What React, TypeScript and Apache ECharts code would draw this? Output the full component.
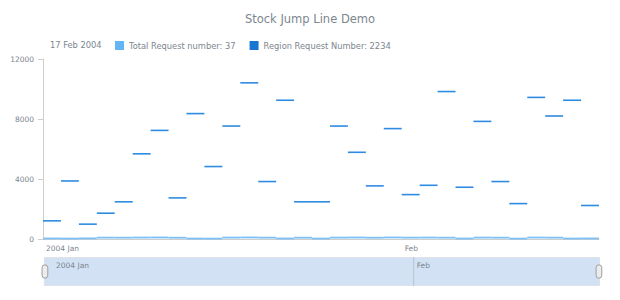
import React, { useEffect, useRef } from 'react';
import * as echarts from 'echarts';

const dates = [
  '2004-01-02', '2004-01-05', '2004-01-06', '2004-01-07', '2004-01-08', '2004-01-09',
  '2004-01-12', '2004-01-13', '2004-01-14', '2004-01-15', '2004-01-16',
  '2004-01-20', '2004-01-21', '2004-01-22', '2004-01-23',
  '2004-01-26', '2004-01-27', '2004-01-28', '2004-01-29', '2004-01-30',
  '2004-02-02', '2004-02-03', '2004-02-04', '2004-02-05', '2004-02-06',
  '2004-02-09', '2004-02-10', '2004-02-11', '2004-02-12', '2004-02-13',
  '2004-02-17',
];

const totalRequests = [
  35, 28, 41, 92, 88, 97, 101, 85, 30, 26,
  95, 104, 90, 33, 87, 29, 93, 99, 86, 102,
  91, 96, 88, 32, 94, 89, 27, 98, 90, 31,
  37,
];

const regionRequests = [
  1210, 3870, 990, 1720, 2480, 5680, 7240, 2740, 8360, 4830,
  7530, 10410, 3830, 9250, 2480, 2480, 7530, 5780, 3540, 7360,
  2960, 3580, 9830, 3450, 7840, 3830, 2360, 9440, 8200, 9250,
  2234,
];

const seriesNames = ['Total Request number', 'Region Request Number'];
const legendColors = ['#64b5f6', '#1976d2'];
const lineColors = ['#7cc0f7', '#2e8be2'];
const yMin = 0;
const yMax = 12000;
const yInterval = 4000;
const MONTHS = ['Jan', 'Feb', 'Mar', 'Apr', 'May', 'Jun', 'Jul', 'Aug', 'Sep', 'Oct', 'Nov', 'Dec'];

const FONT = 'DejaVu Sans';
const TEXT = '#7c868e';

function monthStartLabels(): Record<number, string> {
  const out: Record<number, string> = {};
  dates.forEach((d, i) => {
    const [y, m] = d.split('-');
    const prev = i > 0 ? dates[i - 1].split('-')[1] : null;
    if (prev !== m) out[i] = i === 0 ? `${y} ${MONTHS[+m - 1]}` : MONTHS[+m - 1];
  });
  return out;
}

function fmtDate(d: string): string {
  const [y, m, day] = d.split('-');
  return `${+day} ${MONTHS[+m - 1]} ${y}`;
}

export default function App() {
  const ref = useRef<HTMLDivElement>(null);

  useEffect(() => {
    document.body.style.margin = '0';
    if (!ref.current) return;
    const chart = echarts.init(ref.current, undefined, { renderer: 'svg' });
    const labels = monthStartLabels();
    const monthIdx = Object.keys(labels).map(Number).filter((i) => i > 0);
    const lastVals: Record<string, number> = {
      [seriesNames[0]]: totalRequests[totalRequests.length - 1],
      [seriesNames[1]]: regionRequests[regionRequests.length - 1],
    };

    const jumpSeries = (name: string, values: number[], legendColor: string, color: string, width: number) => ({
      type: 'custom',
      name,
      xAxisIndex: 0,
      yAxisIndex: 0,
      itemStyle: { color: legendColor },
      encode: { x: 0, y: 1 },
      data: values.map((v, i) => [i, v]),
      renderItem: (_p: any, api: any) => {
        const i = api.value(0);
        const v = api.value(1);
        const a = api.coord([i, v]);
        const b = api.coord([i + 1, v]);
        return {
          type: 'line',
          shape: { x1: a[0], y1: a[1], x2: b[0], y2: b[1] },
          style: { stroke: color, lineWidth: width },
        };
      },
    });

    const option: any = {
      animation: false,
      textStyle: { fontFamily: FONT },
      title: [
        {
          text: 'Stock Jump Line Demo',
          left: 'center',
          top: 13,
          padding: 0,
          textStyle: { fontFamily: FONT, fontSize: 11.5, fontWeight: 'normal', color: TEXT },
        },
        {
          text: fmtDate(dates[dates.length - 1]),
          left: 50,
          top: 41,
          padding: 0,
          textStyle: { fontFamily: FONT, fontSize: 8.3, fontWeight: 'normal', color: TEXT },
        },
      ],
      legend: {
        data: seriesNames,
        left: 115,
        top: 41,
        padding: 0,
        icon: 'rect',
        itemWidth: 9,
        itemHeight: 9,
        itemGap: 14,
        selectedMode: false,
        formatter: (name: string) => `${name}: ${lastVals[name]}`,
        textStyle: { fontFamily: FONT, fontSize: 8.3, color: TEXT },
      },
      grid: [
        { left: 43, right: 21, top: 59, bottom: 61 },
        { left: 43, right: 21, top: 257, height: 29 },
      ],
      xAxis: [
        {
          type: 'value',
          gridIndex: 0,
          min: 0,
          max: dates.length,
          interval: 1,
          axisLine: { show: true, lineStyle: { color: '#cecece' } },
          axisTick: { show: false },
          splitLine: { show: false },
          axisLabel: {
            formatter: (v: number) => labels[v] ?? '',
            align: 'left',
            padding: [0, 0, 0, 3],
            color: TEXT,
            fontFamily: FONT,
            fontSize: 7.5,
            margin: 5,
            showMinLabel: true,
            showMaxLabel: true,
          },
        },
        {
          type: 'value',
          gridIndex: 1,
          min: 0,
          max: dates.length - 1,
          interval: 1,
          position: 'top',
          z: 10,
          axisLine: { show: false },
          axisTick: { show: false },
          splitLine: { show: false },
          axisLabel: {
            inside: true,
            formatter: (v: number) => (labels[v] ? (v === 0 ? `{first|${labels[v]}}` : `{rest|${labels[v]}}`) : ''),
            align: 'left',
            margin: 4,
            color: TEXT,
            fontFamily: FONT,
            fontSize: 7.5,
            showMinLabel: true,
            showMaxLabel: true,
            rich: {
              first: { padding: [0, 0, 0, 13], color: TEXT, fontFamily: FONT, fontSize: 7.5 },
              rest: { padding: [0, 0, 0, 3], color: TEXT, fontFamily: FONT, fontSize: 7.5 },
            },
          },
        },
      ],
      yAxis: [
        {
          type: 'value',
          gridIndex: 0,
          min: yMin,
          max: yMax,
          interval: yInterval,
          axisLine: { show: true, lineStyle: { color: '#cecece' } },
          axisTick: { show: true, length: 5, lineStyle: { color: '#cecece' } },
          splitLine: { show: false },
          axisLabel: { color: TEXT, fontFamily: FONT, fontSize: 7.5, margin: 9, formatter: (v: number) => String(v) },
        },
        { type: 'value', gridIndex: 1, min: 0, max: 1, show: false },
      ],
      dataZoom: [
        {
          type: 'slider',
          xAxisIndex: 0,
          filterMode: 'none',
          start: 0,
          end: 100,
          left: 43,
          right: 21,
          top: 257,
          height: 29,
          backgroundColor: 'rgba(0,0,0,0)',
          fillerColor: '#d2e2f4',
          borderColor: '#dfe3e8',
          showDetail: false,
          showDataShadow: false,
          brushSelect: false,
          moveHandleSize: 0,
          handleIcon: 'path://M3,0 a3,3 0 0 1 3,3 v8 a3,3 0 0 1 -3,3 a3,3 0 0 1 -3,-3 v-8 a3,3 0 0 1 3,-3 z',
          handleSize: '46%',
          handleStyle: { color: '#ececec', borderColor: '#9e9e9e', borderWidth: 1 },
        },
      ],
      series: [
        jumpSeries(seriesNames[0], totalRequests, legendColors[0], lineColors[0], 1.8),
        jumpSeries(seriesNames[1], regionRequests, legendColors[1], lineColors[1], 1.6),
        {
          type: 'custom',
          xAxisIndex: 1,
          yAxisIndex: 1,
          z: 10,
          silent: true,
          encode: { x: 0, y: 1 },
          data: monthIdx.map((i) => [i, 0]),
          renderItem: (_p: any, api: any) => {
            const i = api.value(0);
            const a = api.coord([i, 0]);
            const b = api.coord([i, 1]);
            return {
              type: 'line',
              shape: { x1: a[0], y1: a[1], x2: b[0], y2: b[1] },
              style: { stroke: '#b9c3ce', lineWidth: 1 },
            };
          },
        },
      ],
    };

    chart.setOption(option);
    return () => chart.dispose();
  }, []);

  return <div ref={ref} style={{ width: 620, height: 300 }} />;
}
